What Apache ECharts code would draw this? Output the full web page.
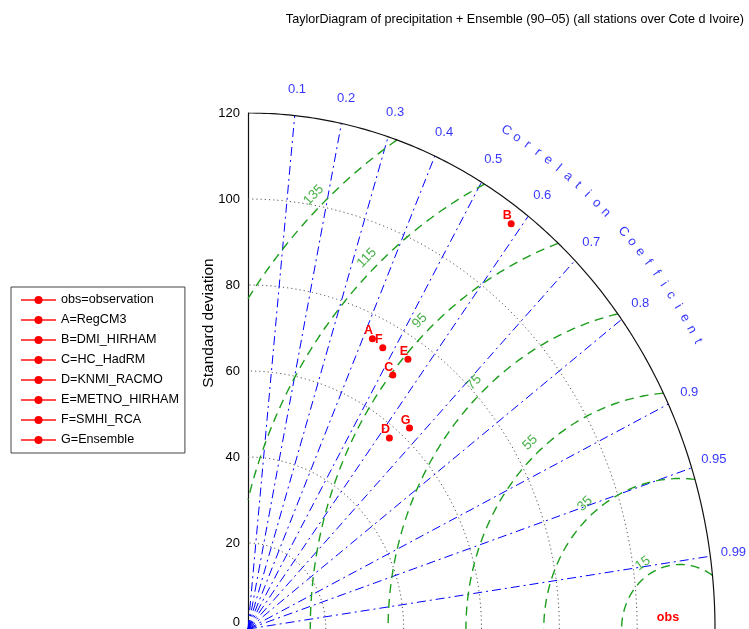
<!DOCTYPE html>
<html>
<head>
<meta charset="utf-8">
<script src="https://cdn.jsdelivr.net/npm/echarts@6/dist/echarts.min.js"></script>
<style>
  html, body { margin: 0; padding: 0; background: #fff; }
  #chart { width: 749px; height: 629px; }
</style>
</head>
<body>
<div id="chart"></div>
<script>
// ---- data ----
const titleText = 'TaylorDiagram of precipitation + Ensemble (90\u201305) (all stations over Cote d Ivoire)';
const modelLetters = ['A', 'B', 'C', 'D', 'E', 'F', 'G'];
const modelNames = ['RegCM3', 'DMI_HIRHAM', 'HC_HadRM', 'KNMI_RACMO', 'METNO_HIRHAM', 'SMHI_RCA', 'Ensemble'];
const modelStd = [74.7, 116.0, 69.8, 57.4, 75.0, 74.0, 62.5];
const modelCorr = [0.428, 0.583, 0.533, 0.633, 0.548, 0.468, 0.664];
const obsLabel = 'obs';
const obsName = 'observation';
const obsStd = 111;
const stdTicks = [0, 20, 40, 60, 80, 100, 120];
const stdCircles = [20, 40, 60, 80, 100];
const corrTicks = [0.1, 0.2, 0.3, 0.4, 0.5, 0.6, 0.7, 0.8, 0.9, 0.95, 0.99];
const rmsLevels = [15, 35, 55, 75, 95, 115, 135];
const corrAxisTitle = 'Correlation Coefficient';
const stdAxisTitle = 'Standard deviation';

// ---- layout ----
const gridLeft = 248, gridTop = 113, gridW = 467, gridH = 519;
const stdMax = stdTicks[stdTicks.length - 1];
const pxX = gridW / stdMax, pxY = gridH / stdMax;   // pixels per unit on each axis
const FONT = '"Liberation Sans", Arial, Helvetica, sans-serif';
const BLUE = '#0000ff', GREEN = '#1c9e1c', RED = '#ff0000';
const DEG = Math.PI / 180;

function polar(std, corr) {
  return [std * corr, std * Math.sqrt(Math.max(0, 1 - corr * corr))];
}
function arcAt(r, a0, a1, n) {
  const pts = [];
  for (let i = 0; i <= n; i++) {
    const a = a0 + (a1 - a0) * i / n;
    pts.push([r * Math.cos(a), r * Math.sin(a)]);
  }
  return pts;
}
// screen rotation (degrees) of the tangent to a circle at angle a, seen through the axis scales
function tangentRot(a) {
  return Math.atan2(-pxY * Math.cos(a), pxX * Math.sin(a)) / DEG;
}

const series = [];

// standard deviation circles (dotted)
stdCircles.forEach(function (s) {
  series.push({
    type: 'line', silent: true, symbol: 'none', animation: false,
    data: arcAt(s, 0, Math.PI / 2, 120),
    lineStyle: { color: '#555', width: 1, type: [1.2, 3] },
    z: 1
  });
});

// correlation radials (dash-dot)
corrTicks.forEach(function (c) {
  series.push({
    type: 'line', silent: true, symbol: 'none', animation: false,
    data: [[0, 0], polar(stdMax, c)],
    lineStyle: { color: BLUE, width: 1, type: [9, 4, 2, 4] },
    z: 2
  });
});

// centred RMS difference circles around the observation (dashed)
const rmsLabelAngles = [122, 130, 131.6, 132.7, 133, 133, 133];
const rmsLabelData = [];
rmsLevels.forEach(function (R, i) {
  const c1 = (stdMax * stdMax - obsStd * obsStd - R * R) / (2 * obsStd * R);
  const p1 = Math.acos(Math.max(-1, Math.min(1, c1)));
  const p2 = obsStd - R >= 0 ? Math.PI : Math.acos(-obsStd / R);
  const pts = [];
  const n = 150;
  for (let k = 0; k <= n; k++) {
    const p = p1 + (p2 - p1) * k / n;
    pts.push([obsStd + R * Math.cos(p), R * Math.sin(p)]);
  }
  series.push({
    type: 'line', silent: true, symbol: 'none', animation: false,
    data: pts,
    lineStyle: { color: GREEN, width: 1.4, type: [9, 6] },
    z: 3
  });
  const a = rmsLabelAngles[i] * DEG;
  const rr = R + 3;
  rmsLabelData.push({
    value: [obsStd + rr * Math.cos(a), rr * Math.sin(a)],
    name: String(R),
    label: { rotate: tangentRot(a) }
  });
});
series.push({
  type: 'scatter', silent: true, symbolSize: 0, animation: false, clip: false,
  data: rmsLabelData,
  label: {
    show: true, position: 'inside', formatter: '{b}',
    color: GREEN, fontSize: 13.5, fontFamily: FONT
  },
  z: 4
});

// outer boundary arc
series.push({
  type: 'line', silent: true, symbol: 'none', animation: false,
  data: arcAt(stdMax, 0, Math.PI / 2, 180),
  lineStyle: { color: '#111', width: 1.2 },
  z: 5
});

// correlation tick labels
series.push({
  type: 'scatter', silent: true, symbolSize: 0, animation: false, clip: false,
  data: corrTicks.map(function (c) {
    return { value: polar(126, c), name: String(c) };
  }),
  label: {
    show: true, position: 'inside', formatter: '{b}',
    color: BLUE, fontSize: 13, fontFamily: FONT
  },
  z: 6
});

// curved "Correlation Coefficient" caption
const chars = corrAxisTitle.split('');
const capStart = 60.2 * DEG, capStep = 1.37 * DEG, capR = 133.6;
series.push({
  type: 'scatter', silent: true, symbolSize: 0, animation: false, clip: false,
  data: chars.map(function (ch, i) {
    const a = capStart - capStep * i;
    return {
      value: [capR * Math.cos(a), capR * Math.sin(a)],
      name: ch,
      label: { rotate: tangentRot(a) }
    };
  }),
  label: {
    show: true, position: 'inside', formatter: '{b}',
    color: BLUE, fontSize: 13, fontFamily: FONT
  },
  z: 6
});

// observation + models (also feed the legend)
const legendNames = [obsLabel + '=' + obsName];
const pointLabel = {
  show: true, position: 'top', color: RED, fontWeight: 'bold',
  fontSize: 12.5, fontFamily: FONT
};
series.push({
  type: 'line', name: legendNames[0], animation: false, clip: false,
  symbol: 'circle', symbolSize: 7,
  itemStyle: { color: RED },
  lineStyle: { color: '#ff4d4d', width: 1.3 },
  data: [{ value: [obsStd, 0], symbolSize: 0 }],
  label: Object.assign({}, pointLabel, { formatter: obsLabel, offset: [-12, 0] }),
  z: 10
});
modelLetters.forEach(function (L, i) {
  const nm = L + '=' + modelNames[i];
  legendNames.push(nm);
  series.push({
    type: 'line', name: nm, animation: false, clip: false,
    symbol: 'circle', symbolSize: 7,
    itemStyle: { color: RED },
    lineStyle: { color: '#ff4d4d', width: 1.3 },
    data: [polar(modelStd[i], modelCorr[i])],
    label: Object.assign({}, pointLabel, { formatter: L, distance: -2, offset: [-4, 0] }),
    z: 10
  });
});

const chart = echarts.init(document.getElementById('chart'), null, { renderer: 'canvas' });
chart.setOption({
  backgroundColor: '#fff',
  animation: false,
  textStyle: { fontFamily: FONT },
  title: {
    text: titleText, right: 0, top: 8,
    textStyle: { fontSize: 12.6, fontWeight: 'normal', color: '#000', fontFamily: FONT }
  },
  legend: {
    data: legendNames,
    orient: 'vertical', left: 11, top: 287,
    padding: [6, 6, 6, 9],
    itemWidth: 35, itemHeight: 10, itemGap: 6, itemTextGap: 7,
    borderColor: '#444', borderWidth: 1,
    textStyle: { fontSize: 12.6, color: '#000', fontFamily: FONT, lineHeight: 14 },
    selectedMode: false
  },
  grid: { left: gridLeft, top: gridTop, width: gridW, height: gridH, containLabel: false },
  xAxis: {
    type: 'value', min: 0, max: stdMax, show: false
  },
  yAxis: {
    type: 'value', min: stdTicks[0], max: stdMax, interval: stdTicks[1] - stdTicks[0],
    axisLine: { show: true, lineStyle: { color: '#111', width: 1.2 } },
    axisTick: { show: false },
    splitLine: { show: false },
    axisLabel: {
      margin: 8, color: '#000', fontSize: 13, fontFamily: FONT,
      formatter: function (v) { return v === 0 ? '{z|0}' : String(v); },
      rich: { z: { fontSize: 13, fontFamily: FONT, color: '#000', padding: [0, 0, 14, 0] } }
    }
  },
  graphic: [{
    type: 'text', x: 209, y: 323, rotation: Math.PI / 2,
    style: {
      text: stdAxisTitle, fill: '#000', fontSize: 15.5, fontFamily: FONT,
      textAlign: 'center', textVerticalAlign: 'middle'
    }
  }],
  series: series
});
</script>
</body>
</html>
